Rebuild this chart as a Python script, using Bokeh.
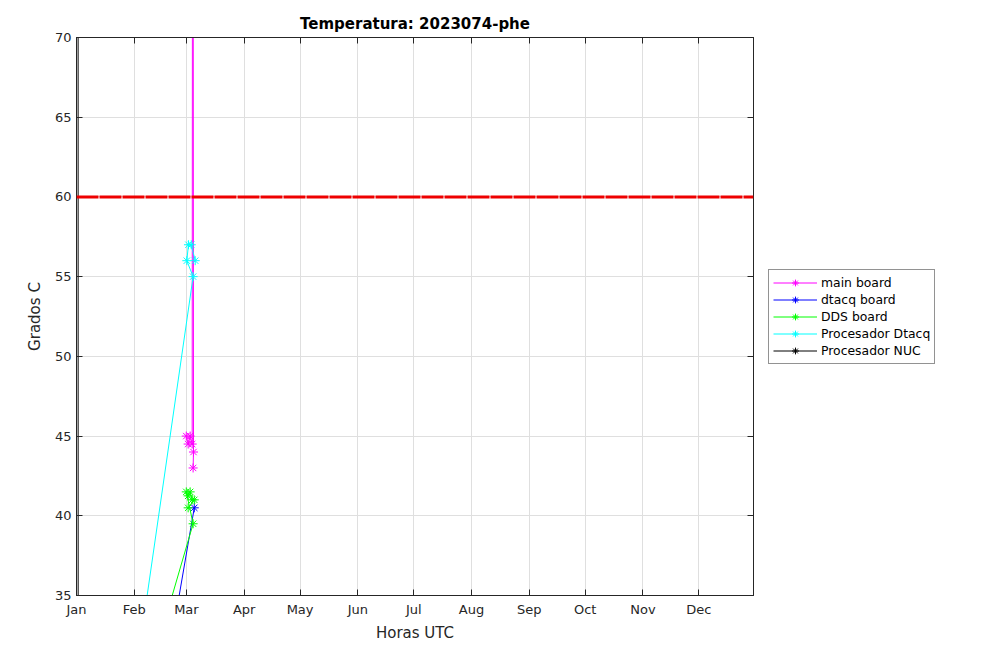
import pandas as pd
from bokeh.plotting import figure
from bokeh.layouts import row
from bokeh.models import (ColumnDataSource, Range1d, DatetimeAxis, LinearAxis, FixedTicker,
                          DatetimeTickFormatter, Span, Legend, LegendItem)
from bokeh.embed import file_html
from bokeh.resources import INLINE

# ---- data ----
main_t = ["2023-02-28 22:00", "2023-03-01 22:00", "2023-03-03 00:00", "2023-03-04 02:00",
          "2023-03-04 10:00", "2023-03-04 19:00", "2023-03-04 14:00"]
main_v = [45, 44.5, 45, 44.5, 120, 44, 43]

dtacq_t = ["2023-02-17 18:00", "2023-03-05 05:00"]
dtacq_v = [30, 40.5]

dds_t = ["2023-02-08 22:00", "2023-03-04 14:00", "2023-02-28 22:00", "2023-03-01 22:00",
         "2023-03-03 00:00", "2023-03-04 02:00", "2023-03-05 05:00", "2023-03-01 22:00"]
dds_v = [30, 39.5, 41.5, 41.25, 41.5, 41, 41, 40.5]

proc_t = ["2023-01-20 10:00", "2023-03-04 14:00", "2023-03-01 05:00", "2023-03-02 02:00",
          "2023-03-03 14:00", "2023-03-05 17:00"]
proc_v = [20, 55, 56, 57, 57, 56]

nuc_t = ["2023-01-01 20:00", "2023-01-01 22:00"]
nuc_v = [120, 0]

limite = 60
months = pd.date_range("2023-01-01", "2023-12-01", freq="MS")

series = [
    ("main board", main_t, main_v, "#ff00ff"),
    ("dtacq board", dtacq_t, dtacq_v, "#0000ff"),
    ("DDS board", dds_t, dds_v, "#00ff00"),
    ("Procesador Dtacq", proc_t, proc_v, "#00ffff"),
    ("Procesador NUC", nuc_t, nuc_v, "#000000"),
]

FONT = "DejaVu Sans"
DARK = "#262626"

p = figure(frame_width=677, frame_height=558,
           x_axis_type="datetime", output_backend="svg", toolbar_location=None,
           min_border_left=76, min_border_top=37, min_border_right=12, min_border_bottom=58,
           x_range=Range1d(pd.Timestamp("2023-01-01"), pd.Timestamp("2023-12-30 08:00")),
           y_range=Range1d(35, 70), title="Temperatura: 2023074-phe")

p.title.align = "center"
p.title.text_font = FONT
p.title.text_font_size = "15px"
p.title.text_font_style = "bold"
p.title.text_color = "#000000"
p.outline_line_color = DARK
p.background_fill_color = "white"

tick_ms = [t.value / 1e6 for t in months]
xt = FixedTicker(ticks=tick_ms)
yt = FixedTicker(ticks=list(range(35, 71, 5)))
fmt = DatetimeTickFormatter(days="%b", months="%b", years="%b", hours="%b")

xa = p.xaxis[0]
xa.ticker = xt
xa.formatter = fmt
xa.axis_label = "Horas UTC"
ya = p.yaxis[0]
ya.ticker = yt
ya.axis_label = "Grados C"

for ax in (xa, ya):
    ax.axis_line_color = DARK
    ax.major_tick_line_color = DARK
    ax.major_tick_in = 6
    ax.major_tick_out = 0
    ax.minor_tick_line_color = None
    ax.major_label_text_font = FONT
    ax.major_label_text_font_size = "13px"
    ax.major_label_text_color = DARK
    ax.axis_label_text_font = FONT
    ax.axis_label_text_font_size = "15px"
    ax.axis_label_text_font_style = "normal"
    ax.axis_label_text_color = DARK
xa.major_label_standoff = 6
xa.axis_label_standoff = 4
ya.major_label_standoff = 5
ya.axis_label_standoff = 8

top = DatetimeAxis(ticker=xt, formatter=fmt)
right = LinearAxis(ticker=yt)
for ax in (top, right):
    ax.axis_line_color = DARK
    ax.major_tick_line_color = DARK
    ax.major_tick_in = 6
    ax.major_tick_out = 0
    ax.minor_tick_line_color = None
    ax.major_label_text_color = None
    ax.major_label_text_font_size = "1px"
    ax.major_label_standoff = 0
p.add_layout(top, "above")
p.add_layout(right, "right")

p.xgrid.ticker = xt
p.ygrid.ticker = yt
p.grid.grid_line_color = "#dfdfdf"

for name, t, v, c in series:
    src = ColumnDataSource(dict(x=pd.to_datetime(t), y=v))
    p.line("x", "y", source=src, line_color=c, line_width=1)
    p.scatter("x", "y", source=src, marker="asterisk", size=9, line_color=c, line_width=1)

p.add_layout(Span(location=limite, dimension="width", line_color="#ee0000",
                  line_width=3, line_dash="22 1"))

# legend drawn in a side figure so it is not clipped by the main frame
lg = figure(width=220, height=653, output_backend="svg", toolbar_location=None,
            x_range=Range1d(0, 1), y_range=Range1d(0, 1),
            x_axis_location=None, y_axis_location=None, min_border=0)
lg.outline_line_color = None
lg.grid.visible = False
items = []
for name, t, v, c in series:
    ln = lg.line([-5, -4], [-5, -4], line_color=c, line_width=1)
    sc = lg.scatter([-5], [-5], marker="asterisk", size=8, line_color=c, line_width=1)
    items.append(LegendItem(label=name, renderers=[ln, sc]))

legend = Legend(items=items, location=(3, 231), margin=0, padding=4, spacing=0,
                glyph_width=44, glyph_height=17, label_height=17, label_standoff=4,
                label_text_font=FONT, label_text_font_size="12.4px", label_text_color="#000000",
                border_line_color=DARK, border_line_width=1, background_fill_alpha=1)
lg.add_layout(legend)

layout = row(p, lg)
open("out.html", "w").write(file_html(layout, INLINE))
